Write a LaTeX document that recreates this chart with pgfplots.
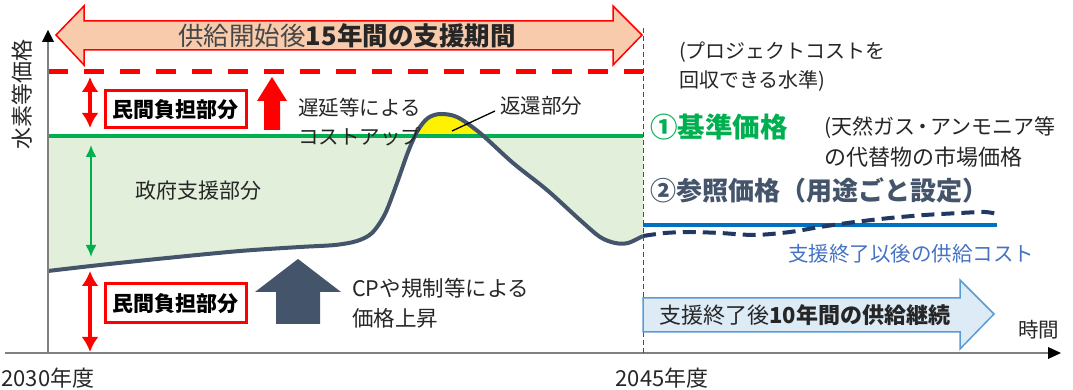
\documentclass[border=0pt]{standalone}
\usepackage{pgfplots}
\pgfplotsset{compat=1.18}
\usepgfplotslibrary{fillbetween}
\usetikzlibrary{arrows.meta}
\usepackage{fontspec}
\setmainfont{Noto Sans CJK JP}
\definecolor{txt}{HTML}{262626}
\definecolor{orfill}{HTML}{F8CBAD}
\definecolor{gline}{HTML}{00B050}
\definecolor{gfill}{HTML}{E2EFDA}
\definecolor{slate}{HTML}{44546A}
\definecolor{navy}{HTML}{203864}
\definecolor{bline}{HTML}{0070C0}
\definecolor{btxt}{HTML}{4472C4}
\definecolor{lbfill}{HTML}{DDEBF7}
\definecolor{lbdraw}{HTML}{5B9BD5}
\newcommand{\fs}[1]{\fontsize{#1pt}{#1pt}\selectfont}
\begin{document}
\begin{tikzpicture}
\begin{axis}[width=1073pt,height=390pt,scale only axis,
  xmin=0,xmax=1073,ymin=0,ymax=390,y dir=reverse,hide axis,clip=false]
% cost curve (support period)
\addplot[name path=curve, draw=none, smooth, tension=0.5] coordinates {
 (48,271) (100,265) (167,258) (240,251) (300,247) (335,245) (357,241) (372,233)
 (385,214) (397,183) (408,152) (418,130) (428,118) (440,114) (457,117) (480,133) (513,163)
 (547,190) (580,220) (600,237) (615,243) (628,243) (643,236)};
\addplot[name path=base, draw=none] coordinates {(48,136) (643,136)};
\addplot fill between[of=curve and base, split,
  every segment no 0/.style={fill=gfill},
  every segment no 1/.style={fill=yellow},
  every segment no 2/.style={fill=gfill}];
% base price line
\addplot[gline, line width=4pt] coordinates {(48,136) (643,136)};
% project cost level
\addplot[red, line width=5pt, dash pattern=on 20pt off 16pt] coordinates {(48,72) (643,72)};
% reference price line after support
\addplot[bline, line width=4pt] coordinates {(643,225) (997,225)};
% cost curve drawn
\addplot[slate, line width=4pt, smooth, tension=0.5] coordinates {
 (48,271) (100,265) (167,258) (240,251) (300,247) (335,245) (357,241) (372,233)
 (385,214) (397,183) (408,152) (418,130) (428,118) (440,114) (457,117) (480,133) (513,163)
 (547,190) (580,220) (600,237) (615,243) (628,243) (643,236)};
% supply cost after support (dashed)
\addplot[navy, line width=4pt, dash pattern=on 13pt off 7pt, smooth, tension=0.5] coordinates {
 (643,236) (665,233) (690,232) (720,233) (755,235) (790,232) (820,227) (855,222)
 (890,218) (925,215) (960,213) (985,212) (997,214)};

% axes
\draw[black!50, line width=1.5pt] (axis cs:48,353) -- (axis cs:48,40);
\fill[black] (axis cs:42,42) -- (axis cs:48,30) -- (axis cs:54,42) -- cycle;
\draw[black!50, line width=1.5pt] (axis cs:5,353) -- (axis cs:1050,353);
\fill[black] (axis cs:1048,347) -- (axis cs:1061,353) -- (axis cs:1048,359) -- cycle;
\draw[black!70, line width=0.9pt, dash pattern=on 5pt off 3pt] (axis cs:643,28) -- (axis cs:643,353);

% top double arrow
\draw[red, line width=1.5pt, fill=orfill, line join=miter]
 (axis cs:56,35) -- (axis cs:84,6) -- (axis cs:84,21) -- (axis cs:613,21) -- (axis cs:613,6)
 -- (axis cs:642,35) -- (axis cs:613,65) -- (axis cs:613,50) -- (axis cs:84,50) -- (axis cs:84,65) -- cycle;
\node[text=txt!85, inner sep=0] at (axis cs:347,36) {\fs{25.5}供給開始後\textbf{\color{txt}15年間の支援期間}};

% red double arrows
\draw[red, line width=4pt, {Latex[length=15pt,width=17pt]}-{Latex[length=15pt,width=17pt]}] (axis cs:90,77) -- (axis cs:90,128);
\draw[red, line width=4pt, {Latex[length=15pt,width=17pt]}-{Latex[length=15pt,width=17pt]}] (axis cs:90,271) -- (axis cs:90,352);
\draw[gline, line width=2pt, {Latex[length=12pt,width=11pt]}-{Latex[length=12pt,width=11pt]}] (axis cs:91,145) -- (axis cs:91,257);

% red boxes
\draw[red, line width=3pt, fill=white] (axis cs:105,91) rectangle (axis cs:246,128);
\node[inner sep=0] at (axis cs:175.5,110) {\fs{21}\textbf{民間負担部分}};
\draw[red, line width=3pt, fill=white] (axis cs:105,284) rectangle (axis cs:246,323);
\node[inner sep=0] at (axis cs:175.5,304) {\fs{21}\textbf{民間負担部分}};

% red up arrow
\fill[red] (axis cs:272,77) -- (axis cs:287,101) -- (axis cs:280,101) -- (axis cs:280,130)
 -- (axis cs:264,130) -- (axis cs:264,101) -- (axis cs:257,101) -- cycle;
% dark up arrow
\fill[slate] (axis cs:298,259) -- (axis cs:341,292) -- (axis cs:320,292) -- (axis cs:320,324)
 -- (axis cs:276,324) -- (axis cs:276,292) -- (axis cs:255,292) -- cycle;

% texts
\node[text=txt, anchor=west, inner sep=0] at (axis cs:298,108) {\fs{20.5}遅延等による};
\node[text=txt, anchor=west, inner sep=0] at (axis cs:298,137) {\fs{20.5}コストアップ};
\node[text=txt, anchor=west, inner sep=0] at (axis cs:500,106) {\fs{20.5}返還部分};
\draw[black, line width=1.3pt] (axis cs:495,111) -- (axis cs:452,131);
\node[text=txt, inner sep=0] at (axis cs:198,191) {\fs{21}政府支援部分};
\node[text=txt, anchor=west, inner sep=0] at (axis cs:352,288) {\fs{21.5}CPや規制等による};
\node[text=txt, anchor=west, inner sep=0] at (axis cs:352,318) {\fs{21.5}価格上昇};
\node[text=txt, anchor=west, inner sep=0] at (axis cs:679,52) {\fs{20}(プロジェクトコストを};
\node[text=txt, anchor=west, inner sep=0] at (axis cs:679,81) {\fs{20}回収できる水準)};
\node[text=gline, anchor=west, inner sep=0] at (axis cs:650,127) {\fs{27.5}\textbf{①基準価格}};
\node[text=txt, anchor=west, inner sep=0] at (axis cs:824,128) {\fs{21}(天然ガス\kern-3pt・\kern-3ptアンモニア等};
\node[text=txt, anchor=west, inner sep=0] at (axis cs:824,157) {\fs{22}の代替物の市場価格};
\node[text=slate, anchor=west, inner sep=0] at (axis cs:650,190) {\fs{26}\textbf{②参照価格（用途ごと設定）}};
\node[text=btxt, anchor=west, inner sep=0] at (axis cs:788,254) {\fs{20.5}支援終了以後の供給コスト};

% light blue arrow
\draw[lbdraw, line width=1.5pt, fill=lbfill, line join=miter]
 (axis cs:643,298) -- (axis cs:960,298) -- (axis cs:960,280) -- (axis cs:994,314)
 -- (axis cs:960,349) -- (axis cs:960,332) -- (axis cs:643,332) -- cycle;
\node[text=txt, anchor=west, inner sep=0] at (axis cs:659,315) {\fs{22}支援終了後\textbf{10年間の供給継続}};

\node[text=txt, anchor=west, inner sep=0] at (axis cs:1018,330) {\fs{20.5}時間};
\node[text=txt, inner sep=0] at (axis cs:48,378) {\fs{22}2030年度};
\node[text=txt, inner sep=0] at (axis cs:662,378) {\fs{22}2045年度};
\node[text=txt, inner sep=0, rotate=90] at (axis cs:22,95) {\fs{22}水素等価格};
\end{axis}
\pgfresetboundingbox
\path (0,0) rectangle (1073pt,390pt);
\end{tikzpicture}
\end{document}
